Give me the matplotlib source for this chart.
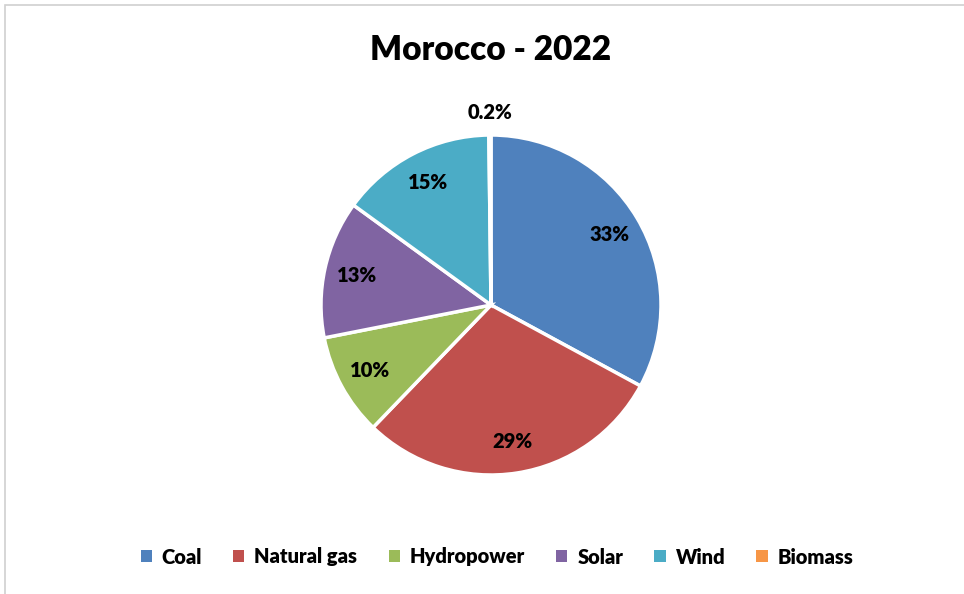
import numpy as np
import matplotlib.pyplot as plt
from matplotlib.patches import Patch, Rectangle

# Electricity generation mix, Morocco 2022 (% share)
sources = ['Coal', 'Natural gas', 'Hydropower', 'Solar', 'Wind', 'Biomass']
shares = [32.9, 29.3, 9.7, 13.1, 14.8, 0.2]
colors = ['#4F81BD', '#C0504D', '#9BBB59', '#8064A2', '#4BACC6', '#F79646']

plt.rcParams['font.family'] = ['Lato', 'DejaVu Sans']
plt.rcParams['font.weight'] = 'heavy'

W, H = 964, 594
fig = plt.figure(figsize=(W / 100, H / 100), dpi=100)

# light chart-area border (only top/left visible)
fig.patches.append(Rectangle((5 / W, -0.05), 1.1, 1 - 4.5 / H + 0.05,
                             transform=fig.transFigure, fill=False,
                             edgecolor='#D0D0D0', linewidth=1.2))

cx, cy, r = 491, 305, 170
ax = fig.add_axes([(cx - r) / W, 1 - (cy + r) / H, 2 * r / W, 2 * r / H])
wedges, _ = ax.pie(shares, colors=colors, startangle=90, counterclock=False,
                   wedgeprops=dict(edgecolor='white', linewidth=2.5))
ax.set_xlim(-1, 1)
ax.set_ylim(-1, 1)
ax.set_aspect('equal')
ax.axis('off')

for w, v in zip(wedges, shares):
    mid = np.deg2rad((w.theta1 + w.theta2) / 2)
    txt = f'{v:.0f}%' if v >= 1 else f'{v:.1f}%'
    dist = 0.81 if v >= 1 else 1.13
    ax.text(dist * np.cos(mid), dist * np.sin(mid), txt, ha='center',
            va='center', fontsize=14.5, fontweight='heavy', color='black')

fig.text(491 / W, 1 - 50 / H, 'Morocco - 2022', ha='center', va='center',
         fontsize=24, fontweight='heavy')

handles = [Patch(facecolor=c, edgecolor='none') for c in colors]
fig.legend(handles, sources, loc='center', bbox_to_anchor=(497 / W, 1 - 557 / H),
           ncol=6, frameon=False, fontsize=14.5, handlelength=0.55,
           handleheight=0.55, handletextpad=0.5, columnspacing=1.55)

fig.savefig('out.png', dpi=100, facecolor='white')
